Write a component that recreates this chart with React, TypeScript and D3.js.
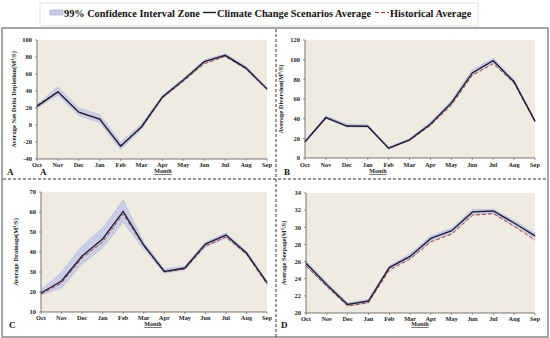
import * as d3 from 'd3';
import React from 'react';

const months = ['Oct', 'Nov', 'Dec', 'Jan', 'Feb', 'Mar', 'Apr', 'May', 'Jun', 'Jul', 'Aug', 'Sep'];

// A - net delta depletion
const depletionAvg = [22, 39, 15, 7, -25, -2, 33, 53, 74.5, 82, 67, 42.5];
const depletionUpper = [24, 45, 20, 12, -20, 1, 35, 55, 76.5, 84, 69, 44];
const depletionLower = [20, 35, 11, 3, -29, -5, 31, 51, 72.5, 80, 65, 41];
const depletionHist = [23, 39.5, 15, 6.5, -24, -3, 32, 51.5, 72, 81, 66, 42];

// B - diversion
const diversionAvg = [16.5, 41, 32.5, 32.3, 10, 18.5, 34.5, 56, 86.5, 99, 77.5, 37.5];
const diversionUpper = [17.5, 43, 34.5, 34, 11, 20, 36.5, 58.5, 89.5, 101.5, 79.5, 38.5];
const diversionLower = [15.5, 40, 31.5, 31.3, 9, 17.5, 33, 54.5, 85, 97, 76, 36.5];
const diversionHist = [16.5, 41.5, 32.5, 32, 10, 18, 33, 53.5, 84, 96, 76, 37];

// C - drainage
const drainageAvg = [19.5, 25.5, 38, 46.5, 60.3, 43.5, 30.3, 32, 44, 48.5, 39.5, 24.7];
const drainageUpper = [21, 30, 43, 52, 66, 45, 31.5, 33, 45, 49.5, 40.5, 25.5];
const drainageLower = [18.5, 22, 34, 42, 55, 41.5, 29.5, 31, 42.5, 47, 38.5, 23.5];
const drainageHist = [19, 24.5, 37, 45, 59, 43, 30, 31.5, 43, 47.5, 39, 24];

// D - seepage
const seepageAvg = [25.8, 23.3, 21.0, 21.4, 25.3, 26.6, 28.7, 29.6, 31.8, 31.9, 30.5, 29.0];
const seepageUpper = [26.1, 23.6, 21.2, 21.6, 25.5, 26.9, 29.0, 29.9, 32.1, 32.1, 30.8, 29.3];
const seepageLower = [25.5, 23.0, 20.8, 21.2, 25.1, 26.3, 28.4, 29.3, 31.5, 31.6, 30.2, 28.7];
const seepageHist = [25.5, 23.1, 20.8, 21.2, 25.0, 26.3, 28.3, 29.2, 31.4, 31.6, 30.1, 28.5];

const legendLabels = ['99% Confidence Interval Zone', 'Climate Change Scenarios Average', 'Historical Average'];

const FONT = 'Liberation Serif, DejaVu Serif, serif';
const BAND = '#c9cde6';
const AVG = '#1c1c35';
const HIST = '#a8403a';

const panels = [
  {
    letter: 'A', extraLetter: 'A', ylabel: 'Average Net Delta Depletion(M³/S)',
    left: 37, right: 267, top: 40, bottom: 159, domain: [-40, 100], step: 20,
    tickY: 167, monthX: 163, monthY: 173, letterX: 7, letterY: 175, ylabelX: 16,
    avg: depletionAvg, upper: depletionUpper, lower: depletionLower, hist: depletionHist,
  },
  {
    letter: 'B', ylabel: 'Average Diversion(M³/S)',
    left: 305, right: 535, top: 40, bottom: 158, domain: [0, 120], step: 20,
    tickY: 167, monthX: 378, monthY: 173, letterX: 284, letterY: 175, ylabelX: 283,
    avg: diversionAvg, upper: diversionUpper, lower: diversionLower, hist: diversionHist,
  },
  {
    letter: 'C', ylabel: 'Average Drainage(M³/S)',
    left: 41, right: 267, top: 192, bottom: 312, domain: [10, 70], step: 10,
    tickY: 320, monthX: 153, monthY: 326, letterX: 9, letterY: 328, ylabelX: 18,
    avg: drainageAvg, upper: drainageUpper, lower: drainageLower, hist: drainageHist,
  },
  {
    letter: 'D', ylabel: 'Average Seepage(M³/S)',
    left: 306, right: 535, top: 193, bottom: 313, domain: [20, 34], step: 2,
    tickY: 321, monthX: 420, monthY: 326, letterX: 281, letterY: 328, ylabelX: 286,
    avg: seepageAvg, upper: seepageUpper, lower: seepageLower, hist: seepageHist,
  },
];

function Panel({ p }: { p: any }) {
  const x = d3.scalePoint<string>().domain(months).range([p.left, p.right]);
  const y = d3.scaleLinear().domain(p.domain).range([p.bottom, p.top]);
  const ticks = d3.range(p.domain[0], p.domain[1] + 0.001, p.step);

  const band = d3.area<number>()
    .x((_, i) => x(months[i]) as number)
    .y0((_, i) => y(p.lower[i]))
    .y1((d) => y(d));
  const line = d3.line<number>()
    .x((_, i) => x(months[i]) as number)
    .y((d) => y(d));

  const midY = (p.top + p.bottom) / 2;

  return (
    <g>
      <rect x={p.left} y={p.top} width={p.right - p.left} height={p.bottom - p.top} fill="#eeebe0" />
      <path d={band(p.upper) || ''} fill={BAND} stroke="#b3b8da" strokeWidth={0.6} />
      <path d={line(p.hist) || ''} fill="none" stroke={HIST} strokeWidth={1} strokeDasharray="4,2" />
      <path d={line(p.avg) || ''} fill="none" stroke={AVG} strokeWidth={1.4} />
      {/* axes */}
      <line x1={p.left} x2={p.left} y1={p.top} y2={p.bottom} stroke="#555" strokeWidth={0.8} />
      <line x1={p.left} x2={p.right} y1={p.bottom} y2={p.bottom} stroke="#555" strokeWidth={0.8} />
      {ticks.map((t: number) => (
        <g key={t}>
          <line x1={p.left - 2} x2={p.left} y1={y(t)} y2={y(t)} stroke="#555" strokeWidth={0.6} />
          <text x={p.left - 5} y={y(t)} dy="0.35em" textAnchor="end" fontSize={6.5} fontWeight="bold" fontFamily={FONT} fill="#222">{t}</text>
        </g>
      ))}
      {months.map((m) => (
        <g key={m}>
          <line x1={x(m)} x2={x(m)} y1={p.bottom} y2={p.bottom + 2} stroke="#555" strokeWidth={0.6} />
          <text x={x(m)} y={p.tickY} textAnchor="middle" fontSize={6.3} fontWeight="bold" fontFamily={FONT} fill="#222">{m}</text>
        </g>
      ))}
      <text x={p.monthX} y={p.monthY} textAnchor="middle" fontSize={6} fontWeight="bold" fontFamily={FONT} fill="#222" textDecoration="underline">Month</text>
      <text transform={`translate(${p.ylabelX},${midY}) rotate(-90)`} textAnchor="middle" fontSize={6.5} fontWeight="bold" fontFamily={FONT} fill="#222">{p.ylabel}</text>
      <text x={p.letterX} y={p.letterY} fontSize={9} fontWeight="bold" fontFamily={FONT} fill="#111">{p.letter}</text>
      {p.extraLetter && (
        <text x={40} y={p.letterY} fontSize={9} fontWeight="bold" fontFamily={FONT} fill="#111">{p.extraLetter}</text>
      )}
    </g>
  );
}

export default function App() {
  return (
    <svg width={550} height={338} style={{ position: 'absolute', left: 0, top: 0, background: '#fff' }}>
      {/* outer frame */}
      <rect x={2} y={28} width={546} height={309} fill="none" stroke="#888" strokeWidth={1.5} />
      <line x1={3} x2={548} y1={179} y2={179} stroke="#333" strokeWidth={1} strokeDasharray="3,2" />
      <line x1={276} x2={276} y1={29} y2={337} stroke="#333" strokeWidth={1} strokeDasharray="3,2" />

      {/* legend */}
      <rect x={40} y={3} width={438} height={23} fill="#fff" stroke="#ddd" strokeWidth={0.8} />
      <rect x={50} y={10} width={13} height={5} fill={BAND} stroke="#9aa0c8" strokeWidth={0.6} />
      <text x={64} y={16.5} fontSize={10.3} fontWeight="bold" fontFamily={FONT} fill="#111">{legendLabels[0]}</text>
      <line x1={203} x2={216} y1={12.5} y2={12.5} stroke={AVG} strokeWidth={1.4} />
      <text x={217} y={16.5} fontSize={10.3} fontWeight="bold" fontFamily={FONT} fill="#111">{legendLabels[1]}</text>
      <line x1={375} x2={389} y1={12.5} y2={12.5} stroke={HIST} strokeWidth={1.2} strokeDasharray="4,2" />
      <text x={390} y={16.5} fontSize={10.3} fontWeight="bold" fontFamily={FONT} fill="#111">{legendLabels[2]}</text>

      {panels.map((p) => (
        <Panel key={p.letter} p={p} />
      ))}
    </svg>
  );
}
